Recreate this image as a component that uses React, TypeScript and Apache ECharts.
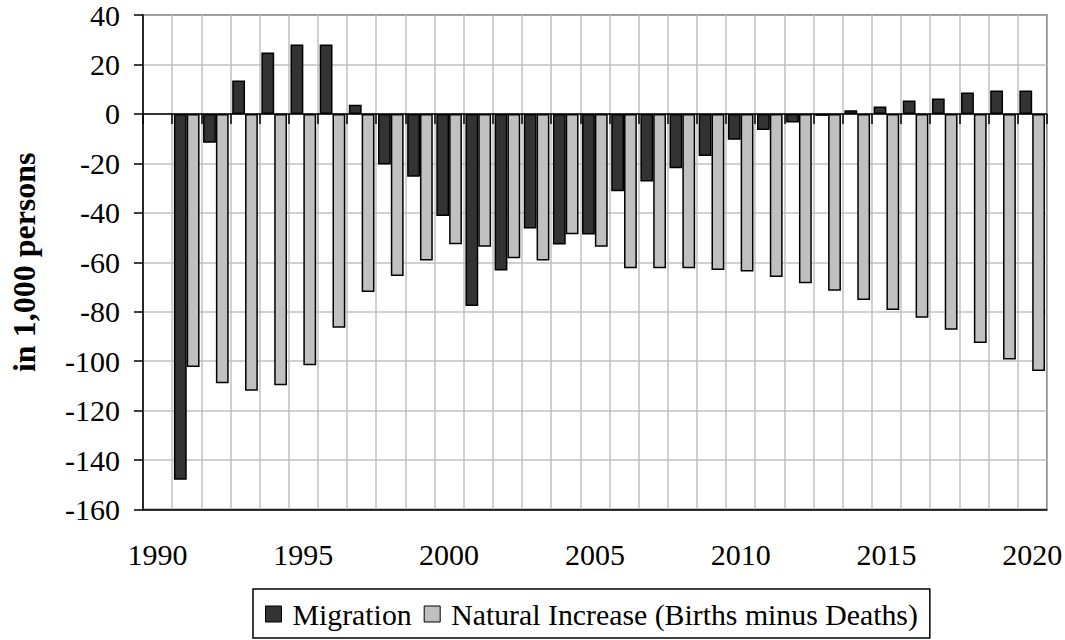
import React, { useEffect, useRef } from "react";
import * as echarts from "echarts";

const FONT = "'Liberation Serif', 'Times New Roman', serif";

const years = [
  "1990", "1991", "1992", "1993", "1994", "1995", "1996", "1997", "1998", "1999",
  "2000", "2001", "2002", "2003", "2004", "2005", "2006", "2007", "2008", "2009",
  "2010", "2011", "2012", "2013", "2014", "2015", "2016", "2017", "2018", "2019", "2020",
];

const migration = [
  null, -148, -11.7, 13.5, 24.8, 28.1, 28.1, 3.7, -20.5, -25.4,
  -41.3, -77.7, -63.3, -46.4, -52.8, -48.8, -31.3, -27.3, -22, -17,
  -10.5, -6.5, -3.5, -0.8, 1.5, 3.0, 5.4, 6.2, 8.7, 9.5, 9.5,
];

const natural = [
  null, -102.4, -108.9, -112, -109.7, -101.7, -86.5, -72, -65.6, -59.3,
  -52.7, -53.7, -58.4, -59.3, -48.7, -53.7, -62.4, -62.4, -62.4, -63.1,
  -63.7, -66, -68.5, -71.5, -75.3, -79.3, -82.4, -87.3, -92.7, -99.3, -104,
];

const seriesNames = ["Migration", "Natural Increase (Births minus Deaths)"];
const yMin = -160;
const yMax = 40;
const yStep = 20;
const yTitle = "in 1,000 persons";

export default function App() {
  const ref = useRef<HTMLDivElement>(null);
  useEffect(() => {
    document.body.style.margin = "0";
    const chart = echarts.init(ref.current!, null, { renderer: "svg" });
    const black = { color: "#000", width: 1.5 };
    chart.setOption({
      animation: false,
      textStyle: { fontFamily: FONT },
      grid: {
        left: 131.7,
        right: 18,
        top: 12.7,
        bottom: 130.5,
        show: true,
        borderColor: "#000",
        borderWidth: 1.5,
        containLabel: false,
      },
      legend: {
        left: 253,
        top: 589,
        orient: "horizontal",
        itemWidth: 16,
        itemHeight: 16,
        itemGap: 12,
        padding: [10, 12, 9, 12],
        borderColor: "#000",
        borderWidth: 1.5,
        itemStyle: { borderColor: "#000", borderWidth: 1 },
        textStyle: {
          fontSize: 29.8,
          color: "#000",
          fontFamily: FONT,
          padding: [0, 0, 0, 6],
        },
        data: seriesNames.map((n) => ({ name: n, icon: "rect" })),
      },
      xAxis: [
        {
          type: "category",
          data: years,
          boundaryGap: true,
          axisLine: { onZero: false, lineStyle: black },
          axisTick: { show: false },
          axisLabel: {
            interval: 4,
            fontSize: 30,
            color: "#000",
            margin: 30,
            fontFamily: FONT,
          },
          splitLine: {
            show: true,
            interval: 0,
            lineStyle: { color: "#c0c0c0", width: 1.5 },
          },
        },
        {
          type: "category",
          data: years,
          position: "bottom",
          boundaryGap: true,
          axisLine: { show: true, onZero: true, lineStyle: black },
          axisTick: { show: true, interval: 0, length: 10, lineStyle: black },
          axisLabel: { show: false },
          splitLine: { show: false },
        },
      ],
      yAxis: {
        type: "value",
        min: yMin,
        max: yMax,
        interval: yStep,
        name: yTitle,
        nameLocation: "middle",
        nameGap: 103,
        nameTextStyle: {
          fontSize: 32,
          fontWeight: "bold",
          color: "#000",
          fontFamily: FONT,
        },
        axisLine: { show: true, lineStyle: black },
        axisTick: { show: true, length: 9, lineStyle: black },
        axisLabel: { fontSize: 30, color: "#000", margin: 23, fontFamily: FONT },
        splitLine: { show: true, lineStyle: { color: "#c0c0c0", width: 1.5 } },
      },
      series: [
        {
          name: seriesNames[0],
          type: "bar",
          xAxisIndex: 0,
          data: migration,
          barGap: "0%",
          barCategoryGap: "12%",
          itemStyle: { color: "#333333", borderColor: "#000", borderWidth: 1.5 },
        },
        {
          name: seriesNames[1],
          type: "bar",
          xAxisIndex: 0,
          data: natural,
          barGap: "0%",
          barCategoryGap: "12%",
          itemStyle: { color: "#c0c0c0", borderColor: "#000", borderWidth: 1.5 },
        },
      ],
    });
    return () => chart.dispose();
  }, []);
  return <div ref={ref} style={{ width: 1065, height: 640 }} />;
}
